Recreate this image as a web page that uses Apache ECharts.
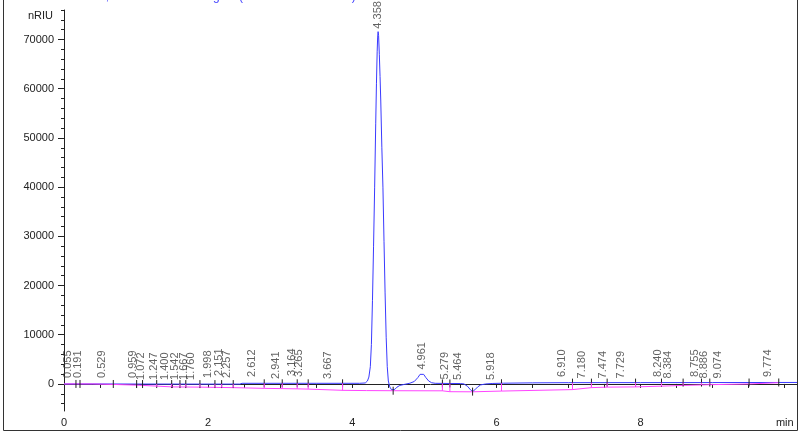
<!DOCTYPE html>
<html>
<head>
<meta charset="utf-8">
<script src="https://cdn.jsdelivr.net/npm/echarts@6/dist/echarts.min.js"></script>
<style>
html,body{margin:0;padding:0;background:#fff;}
#chart{width:800px;height:434px;}
</style>
</head>
<body>
<div id="chart"></div>
<script>
// ---- data ----
const titleText = 'RID1 A, Refractive Index Signal (USER1\\18052419.D)';
const yUnit = 'nRIU';
const xUnit = 'min';

const signalTime = [0.00,0.40,1.00,2.00,2.44,2.47,3.00,3.50,4.10,4.18,4.21,4.23,4.25,4.265,4.28,4.295,4.31,4.325,4.335,4.345,4.352,4.358,4.365,4.375,4.385,4.395,4.41,4.425,4.44,4.455,4.47,4.485,4.50,4.52,4.545,4.567,4.59,4.62,4.66,4.72,4.80,4.86,4.91,4.94,4.961,4.99,5.02,5.06,5.10,5.15,5.30,5.50,5.55,5.60,5.64,5.669,5.70,5.74,5.78,5.85,5.95,6.10,6.50,7.00,8.00,9.00,10.17];
const signalValue = [0,0,-20,-30,-30,130,130,130,130,200,600,1400,3500,8000,17000,28000,40000,53000,61000,67500,70500,71600,70800,67000,62500,57500,48000,40000,29000,18500,9500,3500,600,-600,-1200,-1380,-1100,-650,-300,-100,150,500,1300,1950,2200,1950,1300,600,250,130,100,80,0,-500,-1200,-1560,-1200,-600,-200,0,100,150,220,260,270,280,300];

const baselineTime = [0,0.40,0.684,1.008,1.09,1.09,1.50,1.89,2.09,2.35,2.35,2.78,3.03,3.24,3.39,3.39,3.87,4.20,4.567,5.25,5.25,5.354,5.354,5.669,6.07,7.055,7.055,7.318,7.536,7.93,8.29,8.59,8.845,8.96,9.505,9.917];
const baselineValue = [0,0,-100,-250,-300,-550,-600,-650,-700,-750,-850,-900,-950,-1000,-1050,-1200,-1300,-1350,-1380,-1400,-1550,-1580,-1720,-1600,-1450,-1150,-850,-750,-650,-600,-450,-300,-200,-150,0,250];

const eventTimes = [0.166,0.222,0.684,1.008,1.09,1.286,1.494,1.609,1.69,1.886,2.094,2.187,2.348,2.778,3.028,3.236,3.388,3.865,4.567,5.25,5.354,5.669,6.07,7.055,7.318,7.536,7.93,8.29,8.59,8.845,8.96,9.505,9.917];

const peakLabels = ['0.055','0.191','0.529','0.959','1.072','1.247','1.400','1.542','1.667','1.760','1.998','2.151','2.257','2.612','2.941','3.164','3.265','3.667','4.358','4.961','5.279','5.464','5.918','6.910','7.180','7.474','7.729','8.240','8.384','8.755','8.886','9.074','9.774'];
const peakHeights = [600,600,600,600,200,200,200,200,200,200,600,1000,600,800,400,1000,800,400,71600,2300,300,200,200,800,500,500,500,800,500,800,500,500,800];

const xTickValues = [0,0.5,1,1.5,2,2.5,3,3.5,4,4.5,5,5.5,6,6.5,7,7.5,8,8.5,9,9.5,10];
const xLabelValues = [0,2,4,6,8,10];
const yLabelValues = [0,10000,20000,30000,40000,50000,60000,70000];
const yMinorValues = [-4000,-2000,2000,4000,6000,8000,12000,14000,16000,18000,22000,24000,26000,28000,32000,34000,36000,38000,42000,44000,46000,48000,52000,54000,56000,58000,62000,64000,66000,68000,72000,74000,76000];

// ---- build ----
function interp(ts, vs, t){
  for(let i=0;i<ts.length-1;i++){
    if(t>=ts[i] && t<=ts[i+1]){
      const d = ts[i+1]-ts[i];
      return d===0 ? vs[i+1] : vs[i]+(vs[i+1]-vs[i])*(t-ts[i])/d;
    }
  }
  return vs[vs.length-1];
}
const signalData = signalTime.map((t,i)=>[t, signalValue[i]]);
const baselineData = baselineTime.map((t,i)=>[t, baselineValue[i]]);
const eventData = eventTimes.map(t=>[t, interp(signalTime, signalValue, t), interp(baselineTime, baselineValue, t)]);
const peakData = peakLabels.map((s,i)=>({name:s, value:[parseFloat(s), peakHeights[i]]}));

const FONT = 'Liberation Sans, Arial, sans-serif';
const chart = echarts.init(document.getElementById('chart'), null, {renderer:'canvas'});
chart.setOption({
  animation:false,
  backgroundColor:'#fff',
  grid:{left:64, right:3, top:10, bottom:23},
  xAxis:{
    type:'value', min:0, max:10.17,
    axisLine:{show:true, lineStyle:{color:'#222', width:1}},
    axisTick:{show:true, length:4, customValues:xTickValues, lineStyle:{color:'#222'}},
    axisLabel:{show:true, customValues:xLabelValues, margin:6, color:'#222', fontSize:11, fontFamily:FONT,
      formatter:v=> v===10 ? xUnit : String(v)},
    splitLine:{show:false}
  },
  yAxis:[{
    type:'value', min:-5500, max:76000, position:'left',
    axisLine:{show:true, lineStyle:{color:'#222', width:1}},
    axisTick:{show:true, length:6, customValues:yLabelValues, lineStyle:{color:'#222'}},
    axisLabel:{show:true, customValues:yLabelValues, margin:10, color:'#222', fontSize:11, fontFamily:FONT,
      formatter:v=>String(v)},
    splitLine:{show:false}
  },{
    type:'value', min:-5500, max:76000, position:'left', offset:0,
    axisLine:{show:false},
    axisTick:{show:true, length:3, customValues:yMinorValues, lineStyle:{color:'#222'}},
    axisLabel:{show:false},
    splitLine:{show:false}
  }],
  graphic:[
    {type:'rect', shape:{x:3.5, y:-5, width:794, height:435.5}, style:{fill:null, stroke:'#333', lineWidth:1}, silent:true, z:-1},
    {type:'text', left:67, top:-9, style:{text:titleText, fill:'#4444ff', font:'12px '+FONT}},
    {type:'text', right:747, top:10, style:{text:yUnit, fill:'#222', font:'11px '+FONT, align:'right'}}
  ],
  series:[
    {type:'line', data:signalData, showSymbol:false, symbol:'none', sampling:null,
      lineStyle:{color:'#3a3aff', width:1}, z:2},
    {type:'line', data:baselineData, showSymbol:false, symbol:'none',
      lineStyle:{color:'#ff44ff', width:1}, z:3},
    {type:'custom', data:eventData, z:4,
      renderItem:function(params, api){
        const t = api.value(0);
        const top = api.coord([t, api.value(1)]);
        const bot = api.coord([t, api.value(2)]);
        const children = [{type:'line', shape:{x1:top[0], y1:top[1]-4, x2:top[0], y2:top[1]+4}, style:{stroke:'#222', lineWidth:1}}];
        if(bot[1]-top[1] > 1.5){
          children.push({type:'line', shape:{x1:top[0], y1:top[1], x2:top[0], y2:bot[1]}, style:{stroke:'#ff44ff', lineWidth:1}});
        }
        return {type:'group', children:children};
      }},
    {type:'scatter', data:peakData, symbolSize:0, z:5,
      label:{show:true, position:'top', distance:3, rotate:90, align:'left', verticalAlign:'middle',
        formatter:p=>p.name, color:'#3a3a3a', fontSize:11, fontFamily:FONT}}
  ]
});
</script>
</body>
</html>
